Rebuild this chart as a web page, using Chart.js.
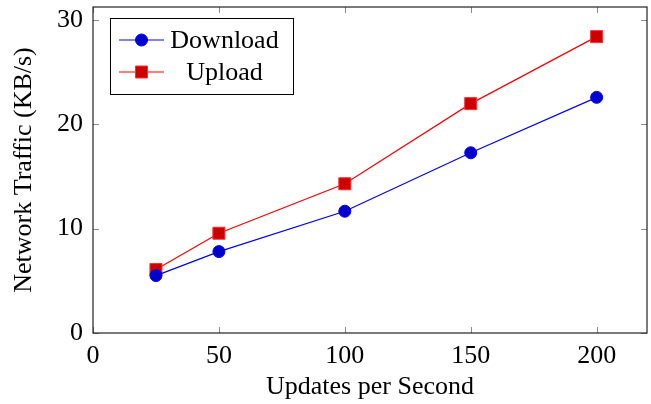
<!DOCTYPE html>
<html>
<head>
<meta charset="utf-8">
<script src="https://cdn.jsdelivr.net/npm/chart.js@4"></script>
<style>
html,body{margin:0;padding:0;background:#fff;}
#wrap{width:651px;height:404px;position:relative;}
</style>
</head>
<body>
<div id="wrap"><canvas id="c" width="651" height="404"></canvas></div>
<script>
const updatesPerSecond = [25, 50, 100, 150, 200];
const downloadKBs = [5.5, 7.8, 11.67, 17.27, 22.58];
const uploadKBs = [6.08, 9.56, 14.3, 21.98, 28.4];
const seriesNames = ['Download', 'Upload'];
const xTickValues = [0, 50, 100, 150, 200];
const yTickValues = [0, 10, 20, 30];
const xLabel = 'Updates per Second';
const yLabel = 'Network Traffic (KB/s)';

const FONT = "'Liberation Serif', 'Times New Roman', serif";
const FS = 26;

function pts(xs, ys){ return xs.map((x,i)=>({x:x, y:ys[i]})); }
function zeroPad(s){ s.paddingTop = 0; s.paddingBottom = 0; s.paddingLeft = 0; s.paddingRight = 0; }

const boxAndTicks = {
  id: 'boxAndTicks',
  beforeDatasetsDraw(chart){
    const {ctx, chartArea:a, scales} = chart;
    const L = 6;
    ctx.save();
    ctx.strokeStyle = '#8a8a8a';
    ctx.lineWidth = 1;
    ctx.beginPath();
    scales.x.ticks.forEach(t=>{
      const px = Math.round(scales.x.getPixelForValue(t.value)) + 0.5;
      ctx.moveTo(px, a.bottom); ctx.lineTo(px, a.bottom - L);
      ctx.moveTo(px, a.top); ctx.lineTo(px, a.top + L);
    });
    scales.y.ticks.forEach(t=>{
      const py = Math.round(scales.y.getPixelForValue(t.value)) + 0.5;
      ctx.moveTo(a.left, py); ctx.lineTo(a.left + L, py);
      ctx.moveTo(a.right, py); ctx.lineTo(a.right - L, py);
    });
    ctx.stroke();
    ctx.strokeStyle = '#222';
    ctx.lineWidth = 1.2;
    ctx.strokeRect(a.left, a.top, a.right - a.left, a.bottom - a.top);
    ctx.restore();
  }
};

const customLegend = {
  id: 'customLegend',
  afterDraw(chart){
    const {ctx, chartArea:a} = chart;
    const bx = a.left + 17, by = a.top + 11, bw = 183, bh = 76;
    ctx.save();
    ctx.fillStyle = '#fff';
    ctx.fillRect(bx, by, bw, bh);
    ctx.strokeStyle = '#000';
    ctx.lineWidth = 1;
    ctx.strokeRect(bx + 0.5, by + 0.5, bw, bh);
    const rows = [by + 22, by + 54];
    chart.data.datasets.forEach((ds, i)=>{
      const y = rows[i];
      ctx.strokeStyle = ds.borderColor;
      ctx.lineWidth = ds.borderWidth;
      ctx.beginPath();
      ctx.moveTo(bx + 9, y); ctx.lineTo(bx + 54, y);
      ctx.stroke();
      ctx.fillStyle = ds.pointBackgroundColor;
      ctx.strokeStyle = ds.pointBorderColor;
      ctx.lineWidth = ds.pointBorderWidth;
      ctx.beginPath();
      if (ds.pointStyle === 'rect') {
        const s = Math.SQRT1_2 * ds.pointRadius;
        ctx.rect(bx + 31.5 - s, y - s, 2*s, 2*s);
      } else {
        ctx.arc(bx + 31.5, y, ds.pointRadius, 0, Math.PI*2);
      }
      ctx.fill(); ctx.stroke();
      ctx.fillStyle = '#000';
      ctx.font = FS + 'px ' + FONT;
      ctx.textAlign = 'center';
      ctx.textBaseline = 'middle';
      ctx.fillText(ds.label, bx + 114.5, y + 1);
    });
    ctx.restore();
  }
};

new Chart(document.getElementById('c'), {
  type: 'line',
  data: {
    datasets: [
      {
        label: seriesNames[0],
        data: pts(updatesPerSecond, downloadKBs),
        borderColor: '#0000ff',
        borderWidth: 1.2,
        pointStyle: 'circle',
        pointRadius: 6,
        pointBackgroundColor: '#0000cc',
        pointBorderColor: '#0000ff',
        pointBorderWidth: 1,
        tension: 0
      },
      {
        label: seriesNames[1],
        data: pts(updatesPerSecond, uploadKBs),
        borderColor: '#ff0000',
        borderWidth: 1.2,
        pointStyle: 'rect',
        pointRadius: 8.5,
        pointBackgroundColor: '#cc0000',
        pointBorderColor: '#ff3030',
        pointBorderWidth: 1,
        tension: 0
      }
    ]
  },
  options: {
    responsive: false,
    animation: false,
    events: [],
    layout: { autoPadding: false, padding: { left: 0, top: 7, right: 4, bottom: 0 } },
    plugins: { legend: { display: false }, tooltip: { enabled: false } },
    scales: {
      x: {
        type: 'linear',
        min: 0, max: 220,
        afterBuildTicks: s => { s.ticks = xTickValues.map(v => ({value: v})); },
        afterFit: s => { s.height = 71; zeroPad(s); },
        grid: { display: false, drawTicks: false },
        border: { display: false },
        ticks: { color: '#000', font: { family: FONT, size: FS }, padding: 8, maxRotation: 0 },
        title: { display: true, text: xLabel, color: '#000', font: { family: FONT, size: FS }, padding: { top: 0, bottom: 1 } }
      },
      y: {
        type: 'linear',
        min: 0, max: 31.24,
        afterBuildTicks: s => { s.ticks = yTickValues.map(v => ({value: v})); },
        afterFit: s => { s.width = 93; zeroPad(s); },
        grid: { display: false, drawTicks: false },
        border: { display: false },
        ticks: { color: '#000', font: { family: FONT, size: FS }, padding: 10 },
        title: { display: true, text: yLabel, color: '#000', font: { family: FONT, size: FS }, padding: { top: 9, bottom: 0 } }
      }
    }
  },
  plugins: [boxAndTicks, customLegend]
});
</script>
</body>
</html>
